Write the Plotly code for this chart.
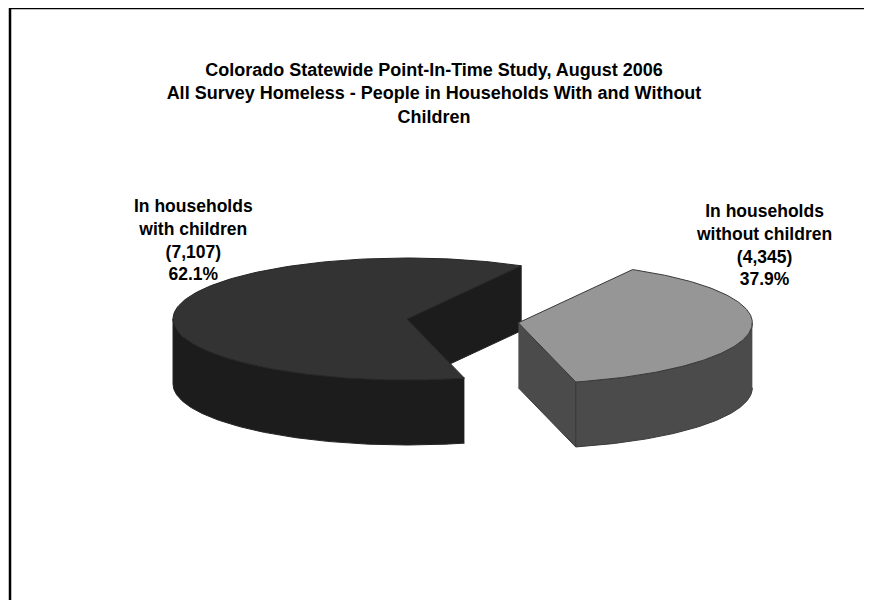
import numpy as np
import plotly.graph_objects as go

# ---------------- data ----------------
categories = ["In households with children", "In households without children"]
counts = [7107, 4345]
label_lines = [["In households", "with children"], ["In households", "without children"]]
title_lines = [
    "Colorado Statewide Point-In-Time Study, August 2006",
    "All Survey Homeless - People in Households With and Without",
    "Children",
]

# ---------------- style / layout ----------------
W, H = 872, 600
CX, CY = 399, 311          # pie centre (pixels)
RX, RY = 234, 61           # ellipse radii of the tilted pie
DEPTH = 65                 # thickness of the 3D pie
START = 75.8               # start angle (deg, clockwise from 3 o'clock on screen)
explode = [0.0, 0.48]
top_colors = ["#333333", "#969696"]
side_colors = ["#1c1c1c", "#4b4b4b"]
edge_colors = ["#262626", "#3a3a3a"]
label_pos = [(185, 232), (756, 237)]
FONT = "Liberation Sans, Arial, sans-serif"

total = float(sum(counts))


def arc(cx, cy, a1, a2, dz=0.0, n=160):
    t = np.radians(np.linspace(a1, a2, n))
    return list(cx + RX * np.cos(t)), list(cy + RY * np.sin(t) + dz)


def pt(cx, cy, a, dz=0.0):
    r = np.radians(a)
    return cx + RX * np.cos(r), cy + RY * np.sin(r) + dz


fig = go.Figure()

a = START
for i, v in enumerate(counts):
    a1 = a
    a2 = a + 360.0 * v / total
    a = a2
    mid = np.radians((a1 + a2) / 2)
    cx = CX + explode[i] * RX * np.cos(mid)
    cy = CY + explode[i] * RY * np.sin(mid)

    polys = []
    # cut faces (visible when outward normal points toward the viewer)
    for edge, normal in ((a1, a1 - 90), (a2, a2 + 90)):
        if np.sin(np.radians(normal)) > 0:
            ex, ey = pt(cx, cy, edge)
            polys.append(([cx, ex, ex, cx], [cy, ey, ey + DEPTH, cy + DEPTH], side_colors[i]))
    # outer curved side: front half only (angles 0..180 mod 360)
    for k in range(-1, 3):
        lo = max(a1, 360 * k)
        hi = min(a2, 360 * k + 180)
        if hi > lo:
            tx, ty = arc(cx, cy, lo, hi)
            bx, by = arc(cx, cy, hi, lo, DEPTH)
            polys.append((tx + bx, ty + by, side_colors[i]))
    # top face
    tx, ty = arc(cx, cy, a1, a2)
    polys.append(([cx] + tx + [cx], [cy] + ty + [cy], top_colors[i]))

    for px, py, col in polys:
        fig.add_trace(go.Scatter(
            x=px, y=py, mode="lines", fill="toself", fillcolor=col,
            line=dict(color=edge_colors[i], width=1),
            name=categories[i], hoverinfo="name", showlegend=False,
        ))

    pct = 100.0 * v / total
    txt = "<br>".join(label_lines[i] + [f"({v:,})", f"{pct:.1f}%"])
    fig.add_annotation(
        x=label_pos[i][0], y=label_pos[i][1], xref="x", yref="y",
        text=f"<b>{txt}</b>", showarrow=False, align="center",
        xanchor="center", yanchor="middle",
        font=dict(family=FONT, size=17.5, color="black"),
    )

# outer border of the chart area (extends beyond the picture on right/bottom)
fig.add_shape(type="rect", xref="x", yref="y", x0=2, y0=0, x1=W + 40, y1=H + 40,
              line=dict(color="black", width=2.5), fillcolor="rgba(0,0,0,0)")

fig.update_layout(
    width=W, height=H,
    margin=dict(l=0, r=0, t=0, b=0),
    paper_bgcolor="white", plot_bgcolor="white",
    title=dict(
        text="<b>" + "<br>".join(title_lines) + "</b>",
        x=426 / W, xanchor="center", xref="paper",
        y=1 - 68 / H, yanchor="top", yref="paper",
        font=dict(family=FONT, size=18, color="black"),
    ),
    xaxis=dict(range=[0, W], visible=False, fixedrange=True),
    yaxis=dict(range=[H, 0], visible=False, fixedrange=True),
    showlegend=False,
)

fig.write_html("out.html")
